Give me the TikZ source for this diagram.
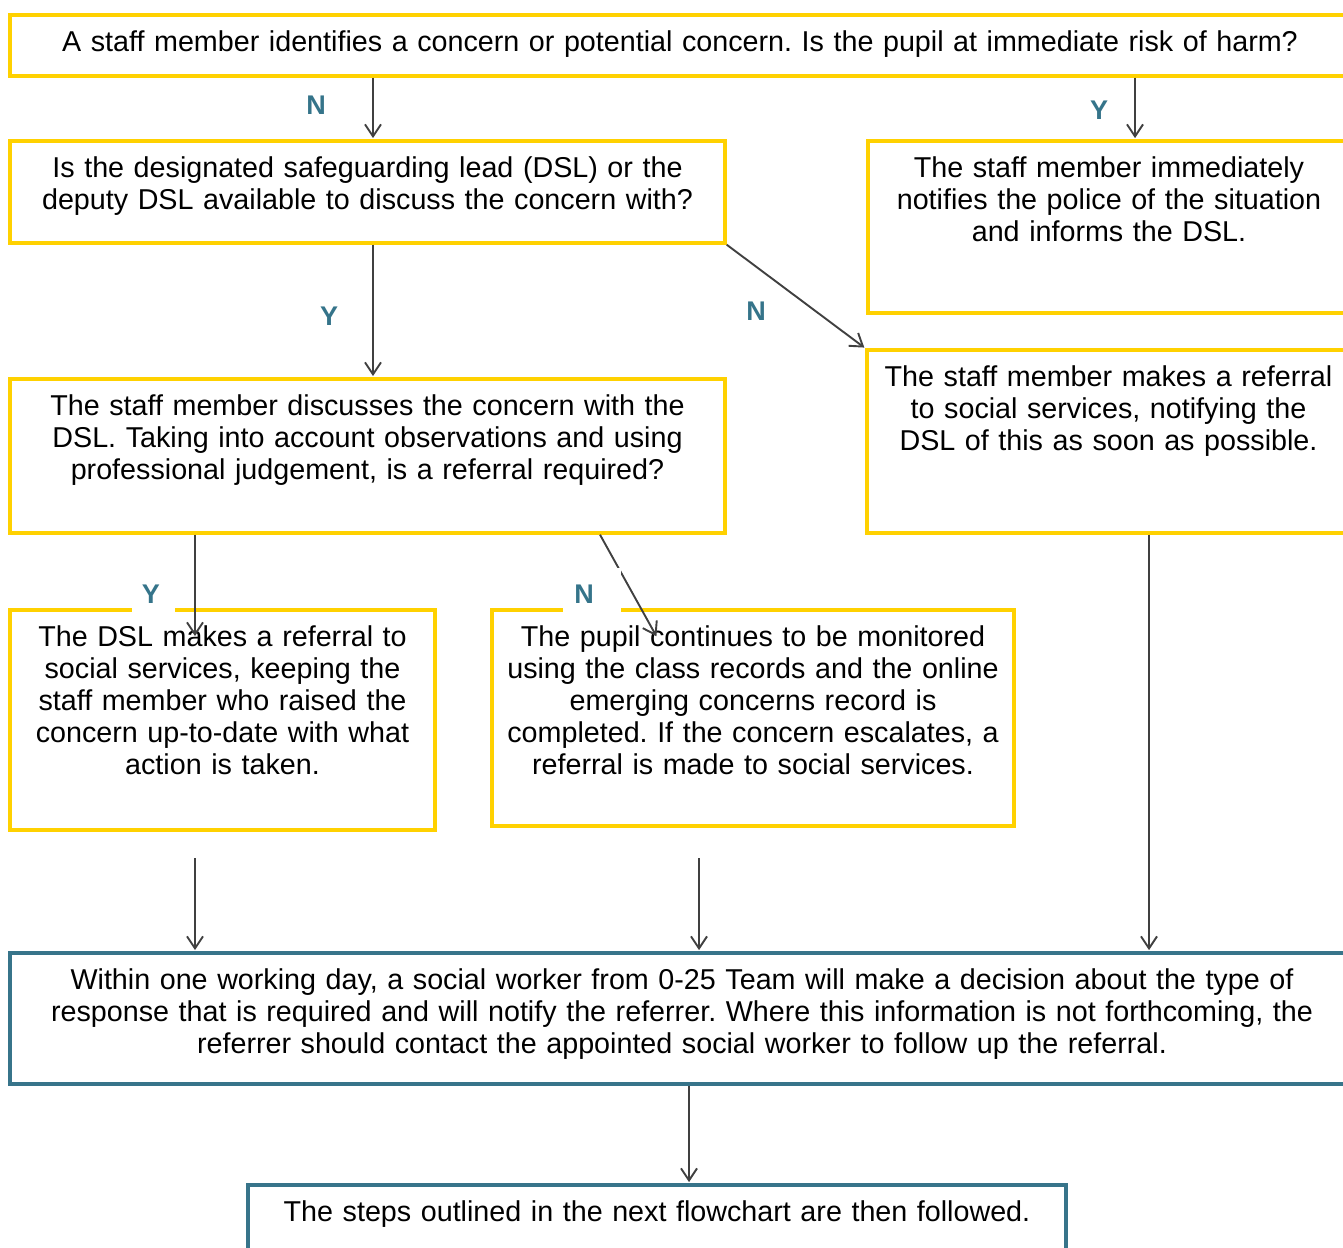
\documentclass[tikz,border=0pt]{standalone}
\usepackage{fontspec}
\setmainfont{Liberation Sans}
\usetikzlibrary{arrows.meta}
\definecolor{boxyellow}{HTML}{FFD100}
\definecolor{boxteal}{HTML}{37748A}
\definecolor{lblteal}{HTML}{35748A}
\definecolor{arrgray}{HTML}{404040}
\frenchspacing
\begin{document}
\begin{tikzpicture}[x=1pt,y=-1pt,
  ybox/.style={draw=boxyellow, line width=3.4pt, rectangle, inner sep=0pt, fill=none},
  tbox/.style={ybox, draw=boxteal},
  txt/.style={font=\fontsize{28.7pt}{32pt}\selectfont, align=center, anchor=base, inner sep=0pt, text width=1400pt},
  lab/.style={font=\fontsize{27pt}{30pt}\selectfont\bfseries, text=lblteal, inner sep=0pt},
  conn/.style={draw=arrgray, line width=1.9pt, shorten >=1.2pt, -{Straight Barb[length=12pt,width=16pt]}}]
\useasboundingbox (0,0) rectangle (1343,1247);
\clip (0,0) rectangle (1343,1247);
\fill[white] (0,0) rectangle (1343,1247);

% boxes
\node[ybox, minimum width=1340pt, minimum height=61pt] (top) at (680,45.5) {};
\node[ybox, minimum width=715pt, minimum height=102pt] (b2) at (367.5,192) {};
\node[ybox, minimum width=482pt, minimum height=172pt] (b3) at (1109,227) {};
\node[ybox, minimum width=715pt, minimum height=154pt] (b4) at (367.5,456) {};
\node[ybox, minimum width=483pt, minimum height=183pt] (b5) at (1108.5,441.5) {};
\node[ybox, minimum width=425pt, minimum height=220pt] (b6) at (222.5,720) {};
\node[ybox, minimum width=522pt, minimum height=216pt] (b7) at (753,718) {};
\node[tbox, minimum width=1340pt, minimum height=131pt] (b8) at (680,1018.5) {};
\node[tbox, minimum width=818pt, minimum height=80pt] (b9) at (657,1225) {};

% texts
\node[txt] (ttop) at (680,51.5) {A staff member identifies a concern or potential concern. Is the pupil at immediate risk of harm?};
\node[txt] (t2) at (367.5,177.5) {Is the designated safeguarding lead (DSL) or the\\deputy DSL available to discuss the concern with?};
\node[txt] (t3) at (1109,177.5) {The staff member immediately\\notifies the police of the situation\\and informs the DSL.};
\node[txt] (t4) at (367.5,415.5) {The staff member discusses the concern with the\\DSL. Taking into account observations and using\\professional judgement, is a referral required?};
\node[txt] (t5) at (1108.5,386.5) {The staff member makes a referral\\to social services, notifying the\\DSL of this as soon as possible.};
\node[txt] (t6) at (222.5,646.5) {The DSL makes a referral to\\social services, keeping the\\staff member who raised the\\concern up-to-date with what\\action is taken.};
\node[txt] (t7) at (753,646.5) {The pupil continues to be monitored\\using the class records and the online\\emerging concerns record is\\completed. If the concern escalates, a\\referral is made to social services.};
\node[txt] (t8) at (682,989.5) {Within one working day, a social worker from 0-25 Team will make a decision about the type of\\response that is required and will notify the referrer. Where this information is not forthcoming, the\\referrer should contact the appointed social worker to follow up the referral.};
\node[txt] (t9) at (657,1221.5) {The steps outlined in the next flowchart are then followed.};

% free ends
\coordinate (s6) at (195,858);
\coordinate (s7) at (699,858);

% connectors
\draw[conn] ([xshift=5.5pt]b2.north |- top.south) -- ([xshift=5.5pt]b2.north);
\draw[conn] ([xshift=26pt]b3.north |- top.south) -- ([xshift=26pt]b3.north);
\draw[conn] ([xshift=5.5pt]b2.south) -- ([xshift=5.5pt]b4.north);
\draw[conn] (b2.south east) -- (b5.north west);
\draw[conn] ([xshift=-27.5pt]b6.north |- b4.south) -- ([xshift=-27.5pt,yshift=-29pt]b6.north);
\draw[conn] ([xshift=232.5pt]b4.south) -- ([xshift=-96pt,yshift=-29pt]b7.north);
\draw[conn] (s6) -- (s6 |- b8.north);
\draw[conn] (s7) -- (s7 |- b8.north);
\draw[conn] ([xshift=40.5pt]b5.south) -- ([xshift=40.5pt]b5.south |- b8.north);
\draw[conn] ([xshift=32pt]b9.north |- b8.south) -- ([xshift=32pt]b9.north);

% label backgrounds
\fill[white] (132,568) rectangle (175,614);
\fill[white] (563,568) rectangle (621,614);

% labels
\node[lab] (l1) at (316,105) {N};
\node[lab] (l2) at (1099,110) {Y};
\node[lab] (l3) at (329,316) {Y};
\node[lab] (l4) at (756,311) {N};
\node[lab] (l5) at (151,594) {Y};
\node[lab] (l6) at (584,594) {N};
\end{tikzpicture}
\end{document}
